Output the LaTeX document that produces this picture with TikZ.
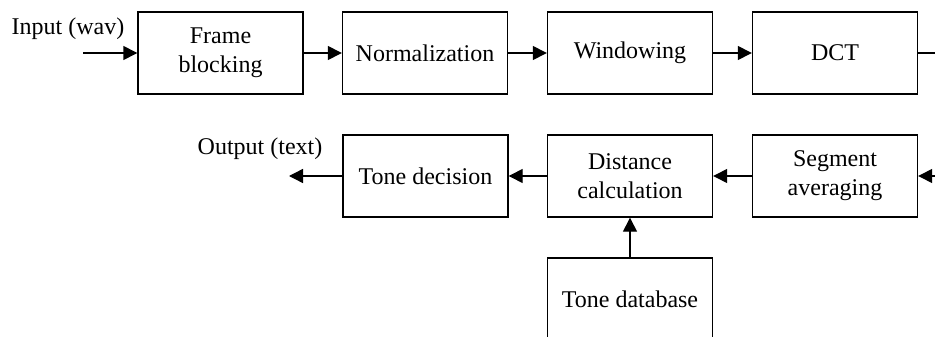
\documentclass[tikz,border=0pt]{standalone}
\usepackage{fontspec}
\setmainfont{Liberation Serif}
\usetikzlibrary{arrows.meta}
\begin{document}
\begin{tikzpicture}[x=1pt,y=-1pt,
  blk/.style={draw, line width=1.4pt, minimum width=165pt, minimum height=82pt, inner sep=0pt, align=center, font=\fontsize{24}{29}\selectfont},
  lbl/.style={inner sep=0pt, font=\fontsize{24}{29}\selectfont},
  conn/.style={line width=1.4pt, -{Triangle[length=14pt,width=14pt]}}]
\useasboundingbox (0,0) rectangle (935,337);
\clip (0,0) rectangle (935,337);
\node[blk] (fb) at (220.5,53) {Frame\\blocking};
\node[blk] (norm) at (425,53) {Normalization};
\node[blk] (win) at (630,53) {Windowing};
\node[blk] (dct) at (835,53) {DCT};
\node[blk] (td) at (425.5,176) {Tone decision};
\node[blk] (dc) at (630,176) {Distance\\calculation};
\node[blk] (sa) at (835,176) {Segment\\averaging};
\node[blk] (db) at (630,299) {Tone database};
\coordinate (in) at (83,53);
\coordinate (out) at (289,176);
\coordinate (r1) at (940,53);
\coordinate (r2) at (940,176);
\node[lbl] (inl) at (68,29) {Input (wav)};
\node[lbl] (outl) at (260,149) {Output (text)};
\draw[conn] (in) -- (fb);
\draw[conn] (fb) -- (norm);
\draw[conn] (norm) -- (win);
\draw[conn] (win) -- (dct);
\draw[line width=1.4pt] (dct) -- (r1);
\draw[conn] (r2) -- (sa);
\draw[conn] (sa) -- (dc);
\draw[conn] (dc) -- (td);
\draw[conn] (td) -- (out);
\draw[conn] (db) -- (dc);
\end{tikzpicture}
\end{document}
